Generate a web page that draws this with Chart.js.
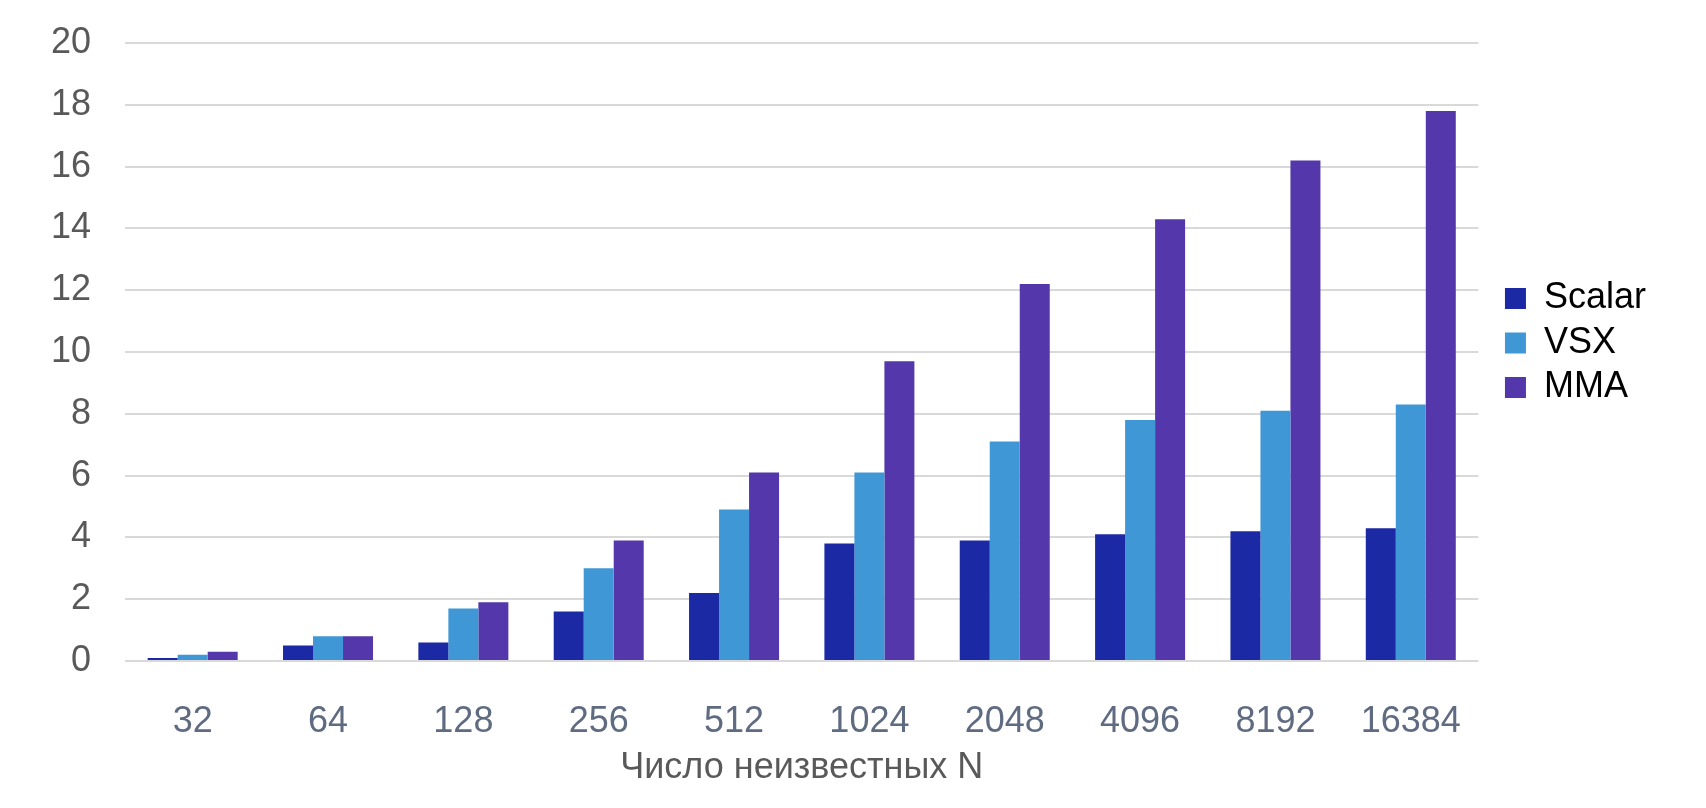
<!DOCTYPE html>
<html>
<head>
<meta charset="utf-8">
<script src="https://cdn.jsdelivr.net/npm/chart.js@4/dist/chart.umd.min.js"></script>
<style>
  html, body { margin: 0; padding: 0; background: #fff; }
  #wrap { width: 1706px; height: 808px; }
</style>
</head>
<body>
<div id="wrap"><canvas id="myChart"></canvas></div>
<script>
// categories: number of unknowns N
var categories = ['32', '64', '128', '256', '512', '1024', '2048', '4096', '8192', '16384'];

// series values
var scalar = [0.1, 0.5, 0.6, 1.6, 2.2, 3.8, 3.9, 4.1, 4.2, 4.3];
var vsx    = [0.2, 0.8, 1.7, 3.0, 4.9, 6.1, 7.1, 7.8, 8.1, 8.3];
var mma    = [0.3, 0.8, 1.9, 3.9, 6.1, 9.7, 12.2, 14.3, 16.2, 17.8];

// y axis ticks
var yMin = 0;
var yMax = 20;
var yStep = 2;

var xTitle = 'Число неизвестных N';

var FONT = "'Liberation Sans', Arial, sans-serif";

// move the legend a little off the plot and up, like the original
var legendNudge = {
  id: 'legendNudge',
  afterLayout: function(chart) {
    var lg = chart.legend;
    if (!lg) return;
    var dx = 18;
    lg.left += dx; lg.right += dx;
    lg.top = chart.chartArea.top;
    lg.bottom = chart.chartArea.bottom - 18;
  }
};

var ctx = document.getElementById('myChart');
var myChart = new Chart(ctx, {
  type: 'bar',
  data: {
    labels: categories,
    datasets: [
      { label: 'Scalar', data: scalar, backgroundColor: '#1b29a5', borderWidth: 0 },
      { label: 'VSX', data: vsx, backgroundColor: '#4097d6', borderWidth: 0 },
      { label: 'MMA', data: mma, backgroundColor: '#5437aa', borderWidth: 0 }
    ]
  },
  options: {
    responsive: true,
    maintainAspectRatio: false,
    animation: false,
    datasets: {
      bar: { categoryPercentage: 0.665, barPercentage: 1.0 }
    },
    layout: { padding: { top: 43, right: 68, bottom: 0, left: 0 } },
    plugins: {
      tooltip: { enabled: false },
      legend: {
        position: 'right',
        labels: {
          boxWidth: 21,
          boxHeight: 21,
          padding: 8.5,
          color: '#000',
          font: { family: FONT, size: 36 }
        }
      }
    },
    scales: {
      x: {
        afterFit: function(scale) { scale.height = 147; },
        grid: { display: false, drawTicks: false },
        border: { display: false },
        ticks: {
          color: '#5f6b80',
          padding: 39,
          maxRotation: 0,
          autoSkip: false,
          font: { family: FONT, size: 36 }
        },
        title: {
          display: true,
          text: xTitle,
          color: '#595959',
          padding: { top: 4, bottom: 18 },
          font: { family: FONT, size: 36 }
        }
      },
      y: {
        min: yMin,
        max: yMax,
        afterFit: function(scale) {
          scale.width = 125;
          scale.paddingTop = 0;
          scale.paddingBottom = 0;
        },
        grid: { color: '#d9d9d9', lineWidth: 2, drawTicks: false },
        border: { display: false },
        ticks: {
          stepSize: yStep,
          color: '#595959',
          padding: 34,
          font: { family: FONT, size: 36 }
        }
      }
    }
  },
  plugins: [legendNudge]
});
</script>
</body>
</html>
